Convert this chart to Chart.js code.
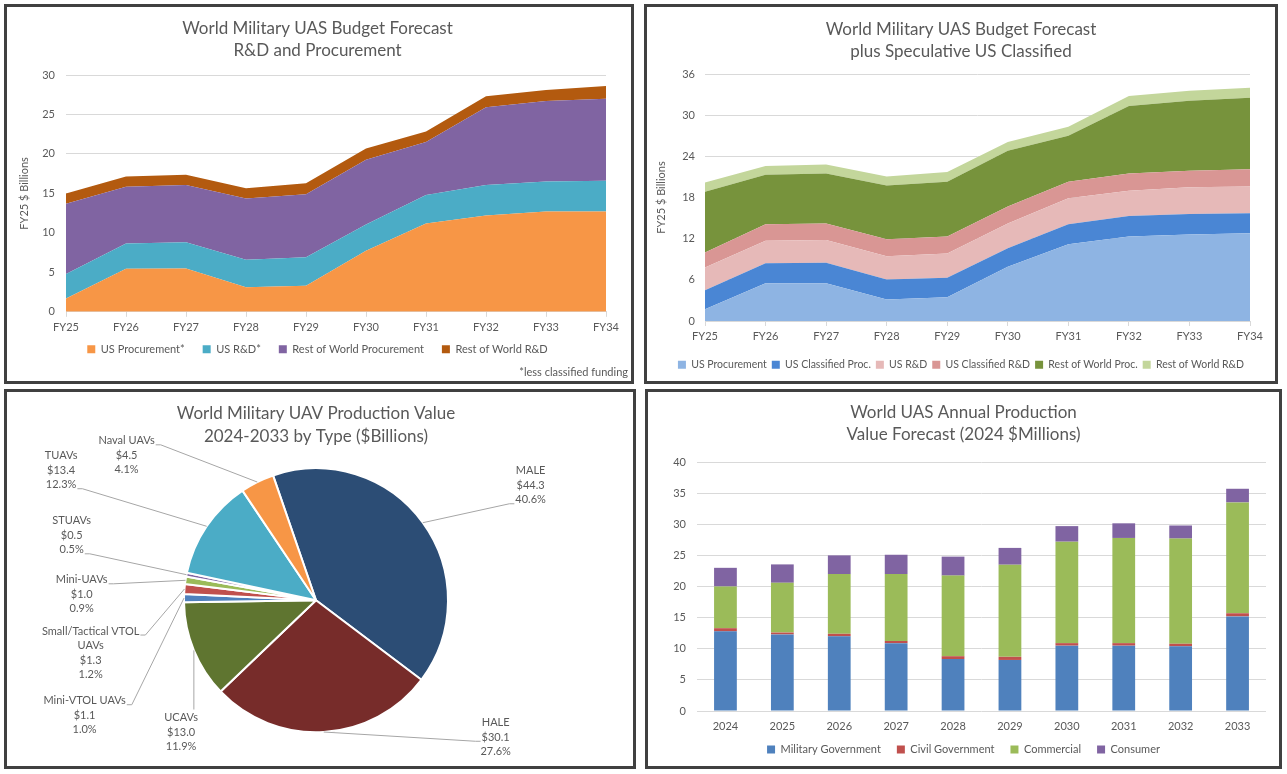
<!DOCTYPE html>
<html><head><meta charset="utf-8">
<script src="https://cdn.jsdelivr.net/npm/chart.js@4.4.1/dist/chart.umd.min.js"></script>
<style>
html,body{margin:0;padding:0;background:#fff;width:1287px;height:774px;overflow:hidden}
.panel{position:absolute;box-sizing:border-box;border:3px solid #404040;background:#fff}
.panel canvas{display:block}
</style></head><body>
<div class="panel" style="left:4px;top:4px;width:630px;height:380px"><canvas id="c1" width="624" height="374"></canvas></div>
<div class="panel" style="left:644px;top:4px;width:634px;height:380px"><canvas id="c2" width="628" height="374"></canvas></div>
<div class="panel" style="left:4px;top:389px;width:632px;height:380px"><canvas id="c3" width="626" height="374"></canvas></div>
<div class="panel" style="left:645px;top:389px;width:637px;height:380px"><canvas id="c4" width="631" height="374"></canvas></div>
<script>
// ---------- DATA ----------
const fyLabels = ['FY25','FY26','FY27','FY28','FY29','FY30','FY31','FY32','FY33','FY34'];

// Chart 1: R&D and Procurement (FY25 $B)
const usProc1  = [1.7, 5.45, 5.5, 3.1, 3.3, 7.75, 11.2, 12.2, 12.7, 12.7];
const usRD1    = [3.1, 3.2, 3.3, 3.5, 3.6, 3.3, 3.6, 3.85, 3.8, 3.9];
const rowProc1 = [8.9, 7.2, 7.25, 7.75, 8.0, 8.2, 6.7, 9.85, 10.2, 10.4];
const rowRD1   = [1.3, 1.3, 1.3, 1.3, 1.4, 1.45, 1.35, 1.4, 1.4, 1.6];

// Chart 2: plus speculative US classified (FY25 $B)
const usProc2    = [1.7, 5.5, 5.5, 3.15, 3.45, 7.9, 11.2, 12.3, 12.6, 12.8];
const usClsProc2 = [2.8, 2.9, 3.0, 2.9, 2.85, 2.7, 2.9, 3.0, 3.0, 2.9];
const usRD2      = [3.3, 3.3, 3.3, 3.4, 3.55, 3.6, 3.8, 3.7, 3.9, 3.9];
const usClsRD2   = [2.2, 2.4, 2.4, 2.45, 2.45, 2.5, 2.4, 2.5, 2.4, 2.5];
const rowProc2   = [8.85, 7.2, 7.3, 7.85, 8.0, 8.1, 6.7, 9.85, 10.2, 10.45];
const rowRD2     = [1.35, 1.3, 1.3, 1.3, 1.4, 1.3, 1.3, 1.45, 1.45, 1.45];

// Chart 3: production value 2024-2033 by type ($B)
const pieLabels = ['MALE','HALE','UCAVs','Mini-VTOL UAVs',['Small/Tactical VTOL','UAVs'],'Mini-UAVs','STUAVs','TUAVs','Naval UAVs'];
const pieValues = [44.3, 30.1, 13.0, 1.1, 1.3, 1.0, 0.5, 13.4, 4.5];

// Chart 4: annual production value forecast
const years      = ['2024','2025','2026','2027','2028','2029','2030','2031','2032','2033'];
const milGov     = [12.8, 12.3, 12.0, 10.9, 8.35, 8.2, 10.5, 10.5, 10.4, 15.2];
const civGov     = [0.5, 0.3, 0.4, 0.35, 0.45, 0.5, 0.4, 0.4, 0.4, 0.5];
const commercial = [6.7, 8.0, 9.6, 10.75, 12.95, 14.8, 16.3, 16.9, 16.9, 17.8];
const consumer   = [3.0, 2.95, 3.0, 3.1, 3.05, 2.7, 2.5, 2.35, 2.1, 2.2];

// ---------- STYLE ----------
const pieColors = ['#2C4D75','#772C2A','#5F7530','#4F81BD','#C0504D','#9BBB59','#8064A2','#4BACC6','#F79646'];
const GRID = '#D9D9D9', TXT = '#595959';
Chart.defaults.font.family = 'Lato, "Open Sans", sans-serif';
Chart.defaults.font.size = 11;
Chart.defaults.color = TXT;

const base = {responsive:false, devicePixelRatio:1, animation:false, events:[]};
function titleOpts(lines, top, bottom, lh){
  return {display:true, text:lines, color:TXT, font:{size:17, weight:'normal', lineHeight:lh/17}, padding:{top:top,bottom:bottom}};
}
function dummyRight(w){
  return {position:'right', display:true, ticks:{display:false}, grid:{display:false, drawTicks:false}, border:{display:false}, afterFit(s){s.width=w;}};
}
// shift = negative offset (px) that pulls the legend rows up while keeping wide horizontal spacing
function legendOpts(pad, fontSize, shift){
  const o = {display:true, position:'bottom', labels:{boxWidth:8, boxHeight:8, padding:pad, color:TXT, font:{size:fontSize}}};
  if (shift) o.title = {display:true, text:' ', font:{size:1, lineHeight:1}, padding:{top:-shift - 1, bottom:0}};
  return o;
}

// ---------- CHART 1 ----------
new Chart(document.getElementById('c1'), {
  type:'line',
  data:{labels:fyLabels, datasets:[
    {label:'US Procurement*', data:usProc1, backgroundColor:'#F79646', borderColor:'#F79646', fill:'origin'},
    {label:'US R&D*', data:usRD1, backgroundColor:'#4BACC6', borderColor:'#4BACC6', fill:'-1'},
    {label:'Rest of World Procurement', data:rowProc1, backgroundColor:'#8064A2', borderColor:'#8064A2', fill:'-1'},
    {label:'Rest of World R&D', data:rowRD1, backgroundColor:'#B35A0F', borderColor:'#B35A0F', fill:'-1'}
  ]},
  options:Object.assign({}, base, {
    elements:{point:{radius:0}, line:{borderWidth:0, tension:0}},
    layout:{padding:{left:0,right:3,top:0,bottom:0}},
    scales:{
      x:{grid:{drawOnChartArea:false, color:GRID, tickLength:5}, border:{color:GRID}, ticks:{padding:4, maxRotation:0, autoSkip:false}, afterFit(s){s.height=23;}},
      y:{stacked:true, min:0, max:30, ticks:{stepSize:5, padding:11}, grid:{color:GRID, drawTicks:false}, border:{display:false},
         title:{display:true, text:'FY25 $ Billions', color:TXT, font:{size:11}, padding:{top:11,bottom:0}}, afterFit(s){s.width=59;}},
      yr:dummyRight(22)
    },
    plugins:{
      title:titleOpts(['World Military UAS Budget Forecast','R&D and Procurement'], 11, 13, 22),
      subtitle:{display:true, position:'bottom', align:'end', text:'*less classified funding', color:TXT, font:{size:11}, padding:{top:1,bottom:2}},
      legend:legendOpts(18, 11, 9),
      tooltip:{enabled:false}
    }
  })
});

// ---------- CHART 2 ----------
new Chart(document.getElementById('c2'), {
  type:'line',
  data:{labels:fyLabels, datasets:[
    {label:'US Procurement', data:usProc2, backgroundColor:'#8EB4E3', borderColor:'#8EB4E3', fill:'origin'},
    {label:'US Classified Proc.', data:usClsProc2, backgroundColor:'#4A86D4', borderColor:'#4A86D4', fill:'-1'},
    {label:'US R&D', data:usRD2, backgroundColor:'#E6B9B8', borderColor:'#E6B9B8', fill:'-1'},
    {label:'US Classified R&D', data:usClsRD2, backgroundColor:'#D99694', borderColor:'#D99694', fill:'-1'},
    {label:'Rest of World Proc.', data:rowProc2, backgroundColor:'#77933C', borderColor:'#77933C', fill:'-1'},
    {label:'Rest of World R&D', data:rowRD2, backgroundColor:'#C3D69B', borderColor:'#C3D69B', fill:'-1'}
  ]},
  options:Object.assign({}, base, {
    elements:{point:{radius:0}, line:{borderWidth:0, tension:0}},
    layout:{padding:{left:0,right:0,top:0,bottom:1}},
    scales:{
      x:{grid:{drawOnChartArea:false, color:GRID, tickLength:5}, border:{color:GRID}, ticks:{padding:4, maxRotation:0, autoSkip:false}, afterFit(s){s.height=33.5;}},
      y:{stacked:true, min:0, max:36, ticks:{stepSize:6, padding:10}, grid:{color:GRID, drawTicks:false}, border:{display:false},
         title:{display:true, text:'FY25 $ Billions', color:TXT, font:{size:11}, padding:{top:8,bottom:0}}, afterFit(s){s.width=58;}},
      yr:dummyRight(25)
    },
    plugins:{
      title:titleOpts(['World Military UAS Budget Forecast','plus Speculative US Classified'], 12, 11, 22),
      legend:legendOpts(5, 10.5, 0),
      tooltip:{enabled:false}
    }
  })
});

// ---------- CHART 3 (pie) ----------
const pieLabelPlugin = {
  id:'pieLabels',
  afterDatasetsDraw(chart, args, opts){
    const ctx = chart.ctx;
    const meta = chart.getDatasetMeta(0);
    const vals = chart.data.datasets[0].data;
    const total = vals.reduce((a,b)=>a+b,0);
    ctx.save();
    ctx.font = opts.fontSize + 'px ' + Chart.defaults.font.family;
    ctx.fillStyle = TXT; ctx.strokeStyle = '#A6A6A6'; ctx.lineWidth = 1;
    ctx.textAlign = 'center'; ctx.textBaseline = 'middle';
    const lh = opts.lineHeight;
    meta.data.forEach((arc, i) => {
      const {x, y, startAngle, endAngle, outerRadius} = arc.getProps(['x','y','startAngle','endAngle','outerRadius'], true);
      const mid = (startAngle + endAngle) / 2;
      const ax = x + Math.cos(mid) * outerRadius, ay = y + Math.sin(mid) * outerRadius;
      const p = opts.placement[i];
      const lx = x + p.dx * outerRadius, ly = y + p.dy * outerRadius;
      const lines = [].concat(chart.data.labels[i]);
      lines.push('$' + vals[i].toFixed(1));
      lines.push((vals[i] / total * 100).toFixed(1) + '%');
      const top = ly - (lines.length - 1) * lh / 2;
      lines.forEach((t, k) => ctx.fillText(t, lx, top + k * lh));
      ctx.beginPath();
      if (p.side === 'top') {
        ctx.moveTo(ax, top - lh / 2 - 1);
        ctx.lineTo(ax, ay);
      } else {
        const dir = p.side === 'right' ? 1 : -1;
        const tw = ctx.measureText(lines[p.line]).width;
        const sx = lx + dir * (tw / 2 + 1), sy = top + p.line * lh + 4;
        ctx.moveTo(sx, sy);
        ctx.lineTo(sx + dir * 5, sy);
        ctx.lineTo(ax, ay);
      }
      ctx.stroke();
    });
    ctx.restore();
  }
};
new Chart(document.getElementById('c3'), {
  type:'pie',
  data:{labels:pieLabels, datasets:[{data:pieValues, backgroundColor:pieColors, borderColor:'#FFFFFF', borderWidth:2, radius:132}]},
  options:Object.assign({}, base, {
    rotation:-19,
    layout:{padding:{left:0,right:8,top:0,bottom:24}},
    plugins:{
      title:titleOpts(['World Military UAV Production Value','2024-2033 by Type ($Billions)'], 10.5, 10, 23),
      legend:{display:false},
      tooltip:{enabled:false},
      pieLabels:{fontSize:11, lineHeight:14.5, placement:[
        {dx:1.626, dy:-0.871, side:'left', line:2},
        {dx:1.361, dy:1.038, side:'left', line:1},
        {dx:-1.022, dy:1.0, side:'top', line:0},
        {dx:-1.753, dy:0.871, side:'right', line:0},
        {dx:-1.707, dy:0.398, side:'right', line:0},
        {dx:-1.775, dy:-0.045, side:'right', line:0},
        {dx:-1.851, dy:-0.492, side:'right', line:2},
        {dx:-1.931, dy:-0.985, side:'right', line:2},
        {dx:-1.435, dy:-1.098, side:'right', line:0}
      ]}
    }
  }),
  plugins:[pieLabelPlugin]
});

// ---------- CHART 4 ----------
new Chart(document.getElementById('c4'), {
  type:'bar',
  data:{labels:years, datasets:[
    {label:'Military Government', data:milGov, backgroundColor:'#4F81BD'},
    {label:'Civil Government', data:civGov, backgroundColor:'#C0504D'},
    {label:'Commercial', data:commercial, backgroundColor:'#9BBB59'},
    {label:'Consumer', data:consumer, backgroundColor:'#8064A2'}
  ]},
  options:Object.assign({}, base, {
    datasets:{bar:{categoryPercentage:1, barPercentage:0.4}},
    layout:{padding:{left:0,right:0,top:0,bottom:1}},
    scales:{
      x:{stacked:true, grid:{display:false, drawTicks:false}, border:{display:false}, ticks:{padding:9, maxRotation:0, autoSkip:false}, afterFit(s){s.height=24;}},
      y:{stacked:true, min:0, max:40, ticks:{stepSize:5, padding:11}, grid:{color:GRID, drawTicks:false}, border:{display:false}, afterFit(s){s.width=49;}},
      yr:dummyRight(13)
    },
    plugins:{
      title:titleOpts(['World UAS Annual Production','Value Forecast (2024 $Millions)'], 10, 16, 22),
      legend:legendOpts(16, 11, 7),
      tooltip:{enabled:false}
    }
  })
});
</script>
</body></html>
